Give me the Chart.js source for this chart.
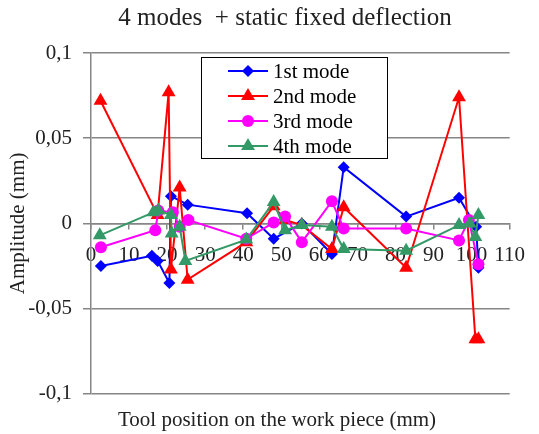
<!DOCTYPE html>
<html>
<head>
<meta charset="utf-8">
<script src="https://cdn.jsdelivr.net/npm/chart.js@4.4.1/dist/chart.umd.min.js"></script>
<style>
  html, body { margin: 0; padding: 0; background: #fff; }
  #wrap { width: 539px; height: 434px; position: relative; }
</style>
</head>
<body>
<div id="wrap"><canvas id="modesChart"></canvas></div>
<script>
// values (tool position in mm, amplitude in mm)
const mode1X = [2.6, 16, 17.5, 20.6, 21, 25.4, 41, 48, 55.4, 63.3, 66.4, 82.8, 96.7, 101.2, 101.8];
const mode1Y = [-0.025, -0.019, -0.022, -0.035, 0.016, 0.011, 0.006, -0.009, 0.000, -0.018, 0.033, 0.004, 0.015, -0.002, -0.026];

const mode2X = [2.5, 17.5, 20.4, 21, 23.3, 25.4, 40.8, 48, 51, 55.4, 63.3, 66.4, 82.8, 96.7, 101, 101.8];
const mode2Y = [0.072, 0.005, 0.077, -0.027, 0.021, -0.033, -0.011, 0.010, 0.002, -0.001, -0.015, 0.0095, -0.026, 0.074, -0.068, -0.068];

const mode3X = [2.6, 16.9, 17.7, 21.5, 23.3, 25.6, 40.8, 48, 51, 55.4, 63.3, 66.4, 82.8, 96.7, 99.3, 101.8];
const mode3Y = [-0.014, -0.004, 0.0075, 0.0065, -0.002, 0.002, -0.009, 0.0005, 0.004, -0.011, 0.013, -0.003, -0.003, -0.010, 0.002, -0.024];

const mode4X = [2.3, 16.4, 17.7, 21, 21.2, 23.3, 24.8, 40.8, 48, 51, 55.4, 63.3, 66.4, 82.8, 96.7, 99.5, 101, 101.8];
const mode4Y = [-0.007, 0.0065, 0.0075, 0.005, -0.006, -0.002, -0.022, -0.0095, 0.0125, -0.004, -0.001, -0.002, -0.015, -0.016, -0.001, 0.000, -0.008, 0.005];

const seriesNames = ['1st mode', '2nd mode', '3rd mode', '4th mode'];

const xTickValues = [0, 10, 20, 30, 40, 50, 60, 70, 80, 90, 100, 110];
const xTickLabels = ['0', '10', '20', '30', '40', '50', '60', '70', '80', '90', '100', '110'];
const yTickValues = [-0.1, -0.05, 0, 0.05, 0.1];
const yTickLabels = ['-0,1', '-0,05', '0', '0,05', '0,1'];

const chartTitle = '4 modes  + static fixed deflection';
const xTitle = 'Tool position on the work piece (mm)';
const yTitle = 'Amplitude (mm)';

const serif = '"Liberation Serif", "Times New Roman", serif';
const gridGray = '#868686';

function pairs(xs, ys) {
    return xs.map((x, i) => ({ x: x, y: ys[i] }));
}

function labelFor(values, labels, v) {
    const i = values.findIndex(t => Math.abs(t - v) < 1e-9);
    return i >= 0 ? labels[i] : '';
}

// marker drawing used by the boxed legend
function drawMarker(ctx, style, r, x, y) {
    ctx.beginPath();
    if (style === 'rectRot') {
        ctx.moveTo(x, y - r);
        ctx.lineTo(x + r, y);
        ctx.lineTo(x, y + r);
        ctx.lineTo(x - r, y);
    } else if (style === 'triangle') {
        const h = r * Math.sqrt(3) / 2;
        ctx.moveTo(x, y - r);
        ctx.lineTo(x + h, y + r / 2);
        ctx.lineTo(x - h, y + r / 2);
    } else {
        ctx.arc(x, y, r, 0, Math.PI * 2);
    }
    ctx.closePath();
    ctx.fill();
}

const boxedLegend = {
    id: 'boxedLegend',
    afterDraw(chart) {
        const ctx = chart.ctx;
        const left = 201, top = 57, w = 186, h = 101;
        ctx.save();
        ctx.fillStyle = '#fff';
        ctx.fillRect(left, top, w, h);
        ctx.strokeStyle = '#000';
        ctx.lineWidth = 1;
        ctx.strokeRect(left + 0.5, top + 0.5, w, h);
        chart.data.datasets.forEach((ds, i) => {
            const y = top + 14 + i * 25;
            ctx.strokeStyle = ds.borderColor;
            ctx.lineWidth = 2;
            ctx.beginPath();
            ctx.moveTo(228, y);
            ctx.lineTo(268, y);
            ctx.stroke();
            ctx.fillStyle = ds.pointBackgroundColor;
            drawMarker(ctx, ds.pointStyle, ds.pointRadius, 248, y);
            ctx.fillStyle = '#000';
            ctx.font = '21px ' + serif;
            ctx.textBaseline = 'middle';
            ctx.textAlign = 'left';
            ctx.fillText(ds.label, 273, y + 1);
        });
        ctx.restore();
    }
};

// the picture's titles sit a little off the canvas centre
const shiftTitles = {
    id: 'shiftTitles',
    afterLayout(chart) {
        chart.boxes.forEach(b => {
            if (!b.options || b.options.text === undefined) return;
            if (b.options.text === chartTitle) { b.left = 31; b.right = 539; }
            if (b.options.text === xTitle) { b.left = 15; b.right = 539; }
        });
    }
};

function makeSet(name, xs, ys, color, style, radius, order) {
    return {
        label: name,
        data: pairs(xs, ys),
        showLine: true,
        borderColor: color,
        backgroundColor: color,
        pointBackgroundColor: color,
        pointBorderColor: color,
        borderWidth: 2,
        pointStyle: style,
        pointRadius: radius,
        pointBorderWidth: 0,
        order: order
    };
}

const ctx = document.getElementById('modesChart').getContext('2d');
new Chart(ctx, {
    type: 'scatter',
    data: {
        datasets: [
            makeSet(seriesNames[0], mode1X, mode1Y, '#0000ff', 'rectRot', 6, 4),
            makeSet(seriesNames[1], mode2X, mode2Y, '#ff0000', 'triangle', 8, 3),
            makeSet(seriesNames[2], mode3X, mode3Y, '#ff00ff', 'circle', 6, 2),
            makeSet(seriesNames[3], mode4X, mode4Y, '#339966', 'triangle', 8, 1)
        ]
    },
    options: {
        responsive: true,
        maintainAspectRatio: false,
        animation: false,
        layout: { padding: { left: 0, right: 19, top: 0, bottom: 0 } },
        plugins: {
            legend: { display: false },
            tooltip: { enabled: false },
            title: {
                display: true,
                text: chartTitle,
                color: '#222',
                font: { family: serif, size: 25, weight: 'normal' },
                padding: { top: 3, bottom: 20 }
            },
            subtitle: {
                display: true,
                position: 'bottom',
                text: xTitle,
                color: '#222',
                font: { family: serif, size: 21, weight: 'normal' },
                padding: { top: 14, bottom: 1 }
            }
        },
        scales: {
            x: {
                type: 'linear',
                position: { y: 0 },
                min: 0,
                max: 110,
                ticks: {
                    stepSize: 10,
                    color: '#222',
                    padding: 14,
                    maxRotation: 0,
                    font: { family: serif, size: 21 },
                    callback: v => labelFor(xTickValues, xTickLabels, v)
                },
                grid: { drawOnChartArea: false, drawTicks: true, tickLength: 5, color: gridGray, lineWidth: 1.5 },
                border: { display: true, color: gridGray, width: 1.5 }
            },
            y: {
                min: -0.1,
                max: 0.1,
                afterFit: scale => { scale.width = 91; },
                ticks: {
                    stepSize: 0.05,
                    color: '#222',
                    padding: 11,
                    font: { family: serif, size: 21 },
                    callback: v => labelFor(yTickValues, yTickLabels, v)
                },
                grid: { color: gridGray, lineWidth: 1.5, tickLength: 8 },
                border: { display: true, color: gridGray, width: 1.5 },
                title: {
                    display: true,
                    text: yTitle,
                    color: '#222',
                    font: { family: serif, size: 21 },
                    padding: { top: 6, bottom: 0 }
                }
            }
        }
    },
    plugins: [boxedLegend, shiftTitles]
});
</script>
</body>
</html>
